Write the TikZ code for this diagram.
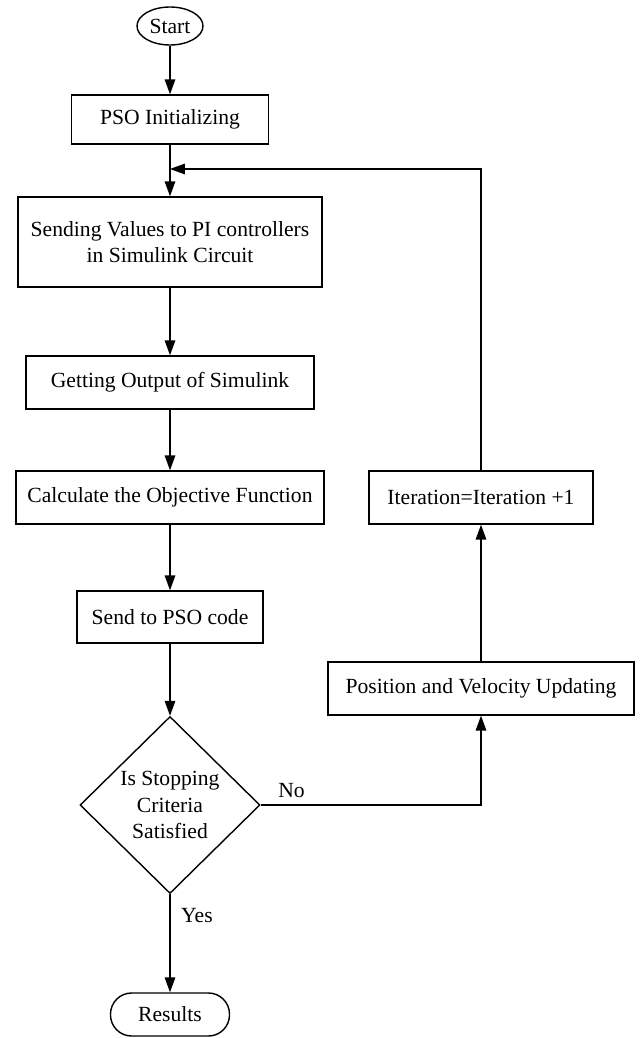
\documentclass[tikz,border=0pt]{standalone}
\usepackage{fontspec}
\setmainfont{Liberation Serif}
\usepackage{tikz}
\usetikzlibrary{arrows.meta, positioning, shapes.geometric}

\begin{document}
\begin{tikzpicture}[
    font=\fontsize{12.3}{15}\selectfont,
    every node/.style={inner sep=0pt},
    box/.style={draw, line width=0.8pt, rectangle, minimum height=1.06cm, align=center},
    term/.style={draw, line width=0.8pt},
    flow/.style={line width=0.8pt, -{Triangle[length=8.5pt,width=6pt]}},
    link/.style={line width=0.8pt}
  ]
  \useasboundingbox (0,0) rectangle (12.88,-20.76);
  \node[term, ellipse, minimum width=1.32cm, minimum height=0.76cm] (start) at (3.4,-0.52) {Start};
  \node[box, minimum width=3.94cm, minimum height=0.98cm] (init) at (3.4,-2.39) {PSO Initializing};
  \node[box, minimum width=6.08cm, minimum height=1.8cm] (sendv) at (3.4,-4.84) {Sending Values to PI controllers\\in Simulink Circuit};
  \node[box, minimum width=5.76cm] (getout) at (3.4,-7.65) {Getting Output of Simulink};
  \node[box, minimum width=6.16cm] (calc) at (3.4,-9.95) {Calculate the Objective Function};
  \node[box, minimum width=3.72cm, minimum height=1.04cm] (topso) at (3.4,-12.34) {Send to PSO code};
  \node[term, diamond, minimum width=3.6cm, minimum height=3.54cm, align=center] (stopq) at (3.4,-16.1) {Is Stopping\\Criteria\\Satisfied};
  \node[term, rectangle, rounded corners=12pt, minimum width=2.38cm, minimum height=0.86cm] (res) at (3.4,-20.29) {Results};
  \node[box, minimum width=6.12cm] (posv) at (9.62,-13.77) {Position and Velocity Updating};
  \node[box, minimum width=4.48cm] (iter) at (9.62,-9.95) {Iteration=Iteration +1};
  \coordinate (join) at (3.4,-3.38);

  \draw[flow] (start) -- (init);
  \draw[flow] (init) -- (sendv);
  \draw[flow] (sendv) -- (getout);
  \draw[flow] (getout) -- (calc);
  \draw[flow] (calc) -- (topso);
  \draw[flow] (topso) -- (stopq);
  \draw[flow] (stopq.south) -- (res.north) node[pos=0.22, right, xshift=6pt]{Yes};
  \draw[flow] (stopq.east) -| (posv.south) node[pos=0.07, above, yshift=4pt]{No};
  \draw[flow] (posv) -- (iter);
  \draw[flow] (iter.north) |- (join);
\end{tikzpicture}
\end{document}
